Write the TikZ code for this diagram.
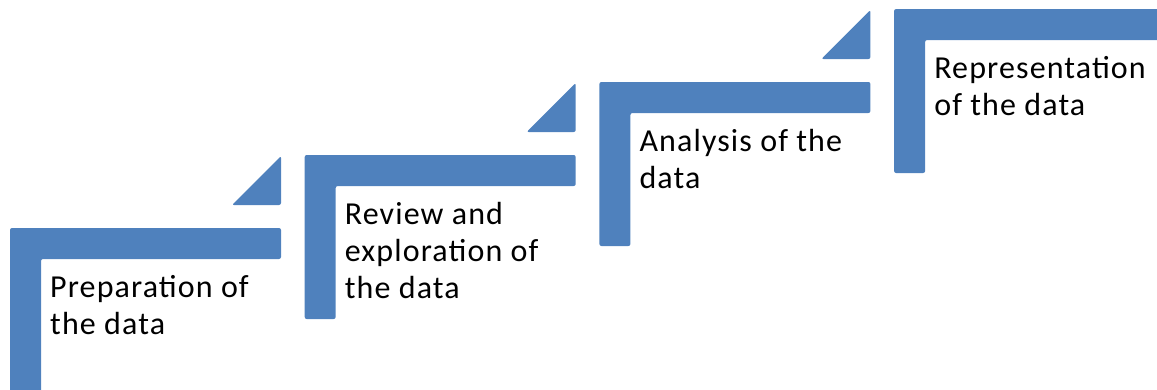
\documentclass[tikz,border=0pt]{standalone}
\usepackage{fontspec}
\setmainfont{Carlito}[LetterSpace=3.5]
\definecolor{stepblue}{HTML}{4F81BD}
\begin{document}
\begin{tikzpicture}[x=1pt,y=-1pt,
  stepshape/.style={fill=stepblue,draw=none,rounded corners=2pt},
  steplabel/.style={anchor=base west,inner sep=0pt,align=left,
    font=\fontsize{32}{37}\selectfont,text=black}]
\useasboundingbox (0,0) rectangle (1157,389);
\clip (0,0) rectangle (1157,389);
\foreach \i/\n/\txt in {0/2/{Preparation of\\the data},1/3/{Review and\\exploration of\\the data},2/2/{Analysis of the\\data},3/2/{Representation\\of the data}}{
  \pgfmathsetmacro{\L}{10+294.7*\i}
  \pgfmathsetmacro{\T}{228-73*\i}
  \fill[stepshape] (\L,\T) -- (\L+271,\T) -- (\L+271,\T+31) -- (\L+31,\T+31) -- (\L+31,\T+164) -- (\L,\T+164) -- cycle;
  \fill[stepshape] (\L+222,\T-23) -- (\L+271,\T-23) -- (\L+271,\T-72) -- cycle;
  \node[steplabel] (label\i) at (\L+40,\T+69+37*\n-37) {\txt};
}
\end{tikzpicture}
\end{document}
